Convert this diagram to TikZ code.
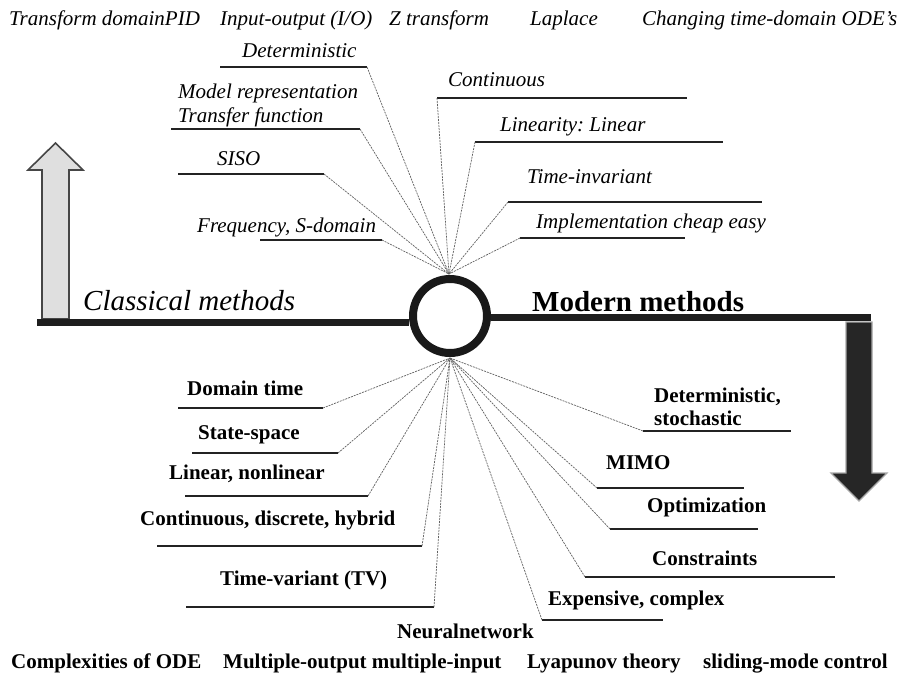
\documentclass[tikz,border=0pt]{standalone}
\usepackage{fontspec}
\setmainfont{Liberation Serif}
\frenchspacing
\begin{document}
\begin{tikzpicture}[x=1pt,y=-1pt,
  itx/.style={font=\fontsize{21}{24}\selectfont\itshape, anchor=base west, inner sep=0pt},
  bfx/.style={font=\fontsize{21}{24}\selectfont\bfseries, anchor=base west, inner sep=0pt},
  uline/.style={line width=2.8pt, draw={rgb,255:red,35;green,35;blue,35}},
  conn/.style={line width=0.7pt, draw=gray!75!black, dash pattern=on 2pt off 1pt},
  mainbar/.style={line width=7pt, draw={rgb,255:red,30;green,30;blue,30}}]
\useasboundingbox (0,0) rectangle (903,673);
\fill[white] (0,0) rectangle (903,673);

% top row
\node[itx] (t1) at (9,25) {Transform domainPID};
\node[itx] (t2) at (220,25) {Input-output (I/O)};
\node[itx] (t3) at (389,25) {Z transform};
\node[itx] (t4) at (530,25) {Laplace};
\node[itx] (t5) at (642,25) {Changing time-domain ODE's};

% arrows
\draw[line width=1.6pt, draw=gray!55!black, fill=gray!25]
  (42,319) -- (42,170) -- (28,170) -- (55.5,143) -- (83,170) -- (69,170) -- (69,319) -- cycle;
\draw[line width=1.2pt, draw=gray!70, fill={rgb,255:red,38;green,38;blue,38}]
  (846,322) -- (846,473) -- (831,473) -- (859,501) -- (887,473) -- (872,473) -- (872,322) -- cycle;

% hub
\node[circle, draw={rgb,255:red,25;green,25;blue,25}, line width=8pt, minimum size=74pt, inner sep=0pt, fill=white] (hub) at (450,316) {};
\coordinate (top) at (449,274);
\coordinate (bot) at (450,358);

\coordinate (lb) at (37,322);
\coordinate (rb) at (871,317);
\draw[mainbar] (lb) -- (lb -| hub.west);
\draw[mainbar] (hub.east |- rb) -- (rb);
\node[font=\fontsize{29}{32}\selectfont\itshape, anchor=base west, inner sep=0pt] (cm) at (83,310) {Classical methods};
\node[font=\fontsize{29}{32}\selectfont\bfseries, anchor=base west, inner sep=0pt] (mm) at (532,311) {Modern methods};

% upper-left items
\node[itx] (u1) at (242,57) {Deterministic};
\coordinate (u1a) at (220,67); \coordinate (u1b) at (367,67);
\node[itx] (u2) at (178,98) {Model representation};
\node[itx] (u2b) at (178,122) {Transfer function};
\coordinate (u2a) at (171,129); \coordinate (u2c) at (360,129);
\node[itx] (u3) at (217,165) {SISO};
\coordinate (u3a) at (178,174); \coordinate (u3b) at (324,174);
\node[itx] (u4) at (197,232) {Frequency, S-domain};
\coordinate (u4a) at (260,240); \coordinate (u4b) at (382,240);
\draw[uline] (u1a) -- (u1b);
\draw[uline] (u2a) -- (u2c);
\draw[uline] (u3a) -- (u3b);
\draw[uline] (u4a) -- (u4b);
\draw[conn] (u1b) -- (top);
\draw[conn] (u2c) -- (top);
\draw[conn] (u3b) -- (top);
\draw[conn] (u4b) -- (top);

% upper-right items
\node[itx] (v1) at (448,86) {Continuous};
\coordinate (v1a) at (437,98); \coordinate (v1b) at (687,98);
\node[itx] (v2) at (500,131) {Linearity: Linear};
\coordinate (v2a) at (475,142); \coordinate (v2b) at (723,142);
\node[itx] (v3) at (527,183) {Time-invariant};
\coordinate (v3a) at (508,202); \coordinate (v3b) at (762,202);
\node[itx] (v4) at (536,228) {Implementation cheap easy};
\coordinate (v4a) at (520,238); \coordinate (v4b) at (685,238);
\draw[uline] (v1a) -- (v1b);
\draw[uline] (v2a) -- (v2b);
\draw[uline] (v3a) -- (v3b);
\draw[uline] (v4a) -- (v4b);
\draw[conn] (v1a) -- (top);
\draw[conn] (v2a) -- (top);
\draw[conn] (v3a) -- (top);
\draw[conn] (v4a) -- (top);

% lower-left items
\node[bfx] (l1) at (187,395) {Domain time};
\coordinate (l1a) at (178,408); \coordinate (l1b) at (323,408);
\node[bfx] (l2) at (198,439) {State-space};
\coordinate (l2a) at (192,453); \coordinate (l2b) at (338,453);
\node[bfx] (l3) at (169,479) {Linear, nonlinear};
\coordinate (l3a) at (185,496); \coordinate (l3b) at (368,496);
\node[bfx] (l4) at (140,525) {Continuous, discrete, hybrid};
\coordinate (l4a) at (157,546); \coordinate (l4b) at (422,546);
\node[bfx] (l5) at (220,585) {Time-variant (TV)};
\coordinate (l5a) at (186,607); \coordinate (l5b) at (434,607);
\node[bfx] (l6) at (397,638) {Neuralnetwork};
\draw[uline] (l1a) -- (l1b);
\draw[uline] (l2a) -- (l2b);
\draw[uline] (l3a) -- (l3b);
\draw[uline] (l4a) -- (l4b);
\draw[uline] (l5a) -- (l5b);
\draw[conn] (l1b) -- (bot);
\draw[conn] (l2b) -- (bot);
\draw[conn] (l3b) -- (bot);
\draw[conn] (l4b) -- (bot);
\draw[conn] (l5b) -- (bot);

% lower-right items
\node[bfx] (r1) at (654,402) {Deterministic,};
\node[bfx] (r1b) at (654,425) {stochastic};
\coordinate (r1a) at (643,431); \coordinate (r1c) at (791,431);
\node[bfx] (r2) at (606,469) {MIMO};
\coordinate (r2a) at (597,488); \coordinate (r2b) at (744,488);
\node[bfx] (r3) at (647,512) {Optimization};
\coordinate (r3a) at (610,529); \coordinate (r3b) at (758,529);
\node[bfx] (r4) at (652,565) {Constraints};
\coordinate (r4a) at (585,577); \coordinate (r4b) at (835,577);
\node[bfx] (r5) at (548,605) {Expensive, complex};
\coordinate (r5a) at (542,620); \coordinate (r5b) at (663,620);
\draw[uline] (r1a) -- (r1c);
\draw[uline] (r2a) -- (r2b);
\draw[uline] (r3a) -- (r3b);
\draw[uline] (r4a) -- (r4b);
\draw[uline] (r5a) -- (r5b);
\draw[conn] (r1a) -- (bot);
\draw[conn] (r2a) -- (bot);
\draw[conn] (r3a) -- (bot);
\draw[conn] (r4a) -- (bot);
\draw[conn] (r5a) -- (bot);

% bottom row
\node[bfx] (b1) at (11,668) {Complexities of ODE};
\node[bfx] (b2) at (223,668) {Multiple-output multiple-input};
\node[bfx] (b3) at (527,668) {Lyapunov theory};
\node[bfx] (b4) at (703,668) {sliding-mode control};
\end{tikzpicture}
\end{document}
